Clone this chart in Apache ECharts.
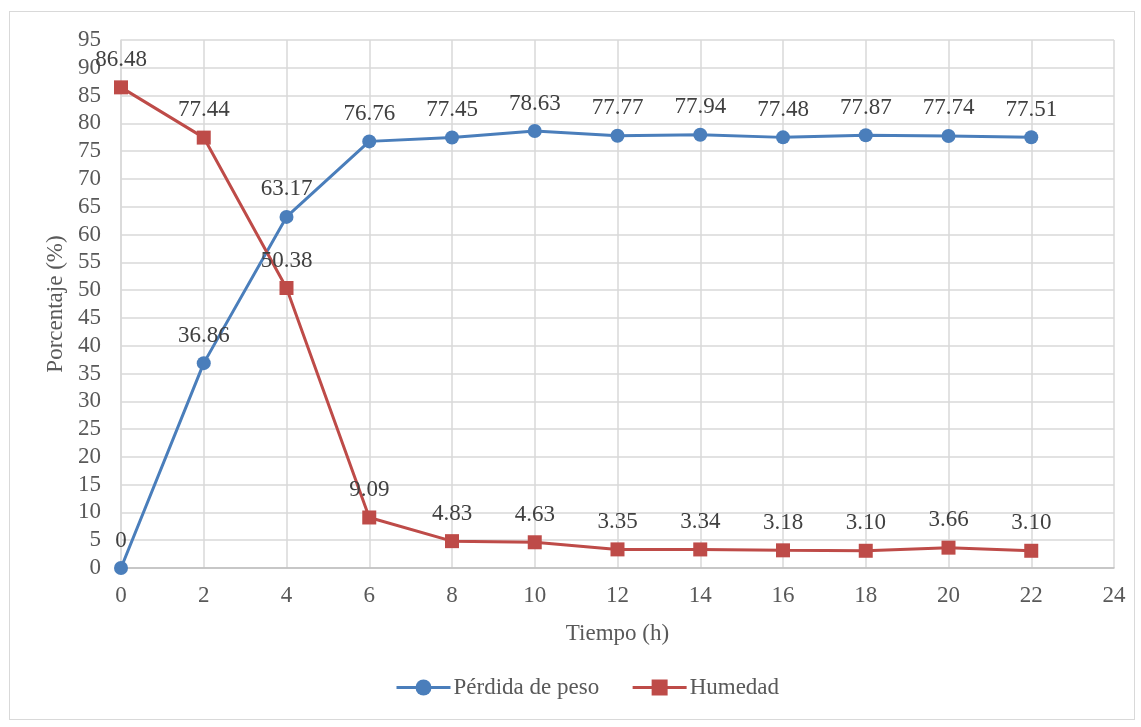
<!DOCTYPE html>
<html><head><meta charset="utf-8">
<script src="https://cdn.jsdelivr.net/npm/echarts@6/dist/echarts.min.js"></script>
<style>html,body{margin:0;padding:0;background:#fff}#c{width:1141px;height:727px}
#frame{position:absolute;left:9px;top:11px;width:1126px;height:709px;border:1px solid #d9d9d9;box-sizing:border-box;pointer-events:none}</style>
</head><body><div id="c"></div><div id="frame"></div>
<script>
const hours = [0, 2, 4, 6, 8, 10, 12, 14, 16, 18, 20, 22];
const perdida = [0, 36.86, 63.17, 76.76, 77.45, 78.63, 77.77, 77.94, 77.48, 77.87, 77.74, 77.51];
const humedad = [86.48, 77.44, 50.38, 9.09, 4.83, 4.63, 3.35, 3.34, 3.18, 3.10, 3.66, 3.10];
const perdidaLabels = ['0', '36.86', '63.17', '76.76', '77.45', '78.63', '77.77', '77.94', '77.48', '77.87', '77.74', '77.51'];
const humedadLabels = ['86.48', '77.44', '50.38', '9.09', '4.83', '4.63', '3.35', '3.34', '3.18', '3.10', '3.66', '3.10'];
const font = '"Liberation Serif","Times New Roman",serif';
const chart = echarts.init(document.getElementById('c'));
function mk(xs, ys, labs){ return xs.map((x,i)=>({value:[x, ys[i]], label:{formatter: labs[i]}})); }
chart.setOption({
  animation: false,
  textStyle: {fontFamily: font},
  grid: {left: 121, top: 40, width: 993, height: 528},
  xAxis: {
    type: 'value', min: 0, max: 24, interval: 2,
    name: 'Tiempo (h)', nameLocation: 'middle', nameGap: 54,
    nameTextStyle: {fontFamily: font, fontSize: 23, color: '#595959'},
    axisLine: {show: true, lineStyle: {color: '#bfbfbf', width: 1.5}},
    axisTick: {show: false},
    axisLabel: {fontFamily: font, fontSize: 23, color: '#595959', margin: 16},
    splitLine: {show: true, lineStyle: {color: '#d9d9d9', width: 1.5}}
  },
  yAxis: {
    type: 'value', min: 0, max: 95, interval: 5,
    name: 'Porcentaje (%)', nameLocation: 'middle', nameGap: 50,
    nameTextStyle: {fontFamily: font, fontSize: 23, color: '#595959'},
    axisLine: {show: true, lineStyle: {color: '#d9d9d9', width: 1.5}},
    axisTick: {show: false},
    axisLabel: {fontFamily: font, fontSize: 23, color: '#595959', margin: 20},
    splitLine: {show: true, lineStyle: {color: '#d9d9d9', width: 1.5}}
  },
  legend: {
    bottom: 23, left: 390, itemWidth: 54, itemHeight: 20, itemGap: 32,
    lineStyle: {width: 3},
    textStyle: {fontFamily: font, fontSize: 23, color: '#595959', padding: [0, 0, 0, -2]},
    data: ['Pérdida de peso', 'Humedad']
  },
  series: [
    {
      name: 'Pérdida de peso', type: 'line', data: mk(hours, perdida, perdidaLabels),
      symbol: 'circle', symbolSize: 14,
      lineStyle: {color: '#4a7ebb', width: 3},
      itemStyle: {color: '#4a7ebb'},
      label: {show: true, position: 'top', distance: 9, fontFamily: font, fontSize: 23, color: '#404040'}
    },
    {
      name: 'Humedad', type: 'line', data: mk(hours, humedad, humedadLabels),
      symbol: 'rect', symbolSize: 14,
      lineStyle: {color: '#be4b48', width: 3},
      itemStyle: {color: '#be4b48'},
      label: {show: true, position: 'top', distance: 9, fontFamily: font, fontSize: 23, color: '#404040'}
    }
  ]
});
</script></body></html>
